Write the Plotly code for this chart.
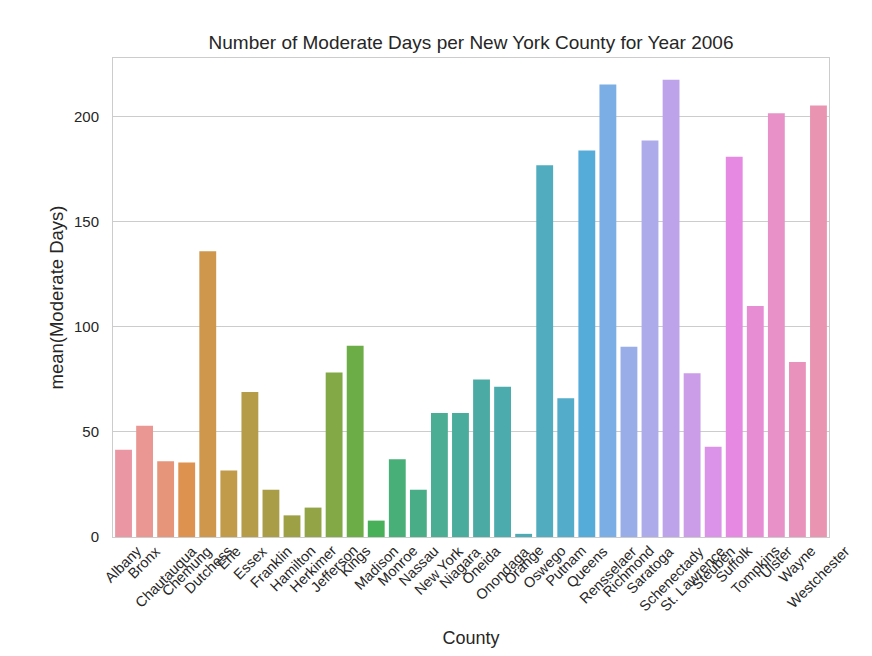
import math
import colorsys
import plotly.graph_objects as go

# ---------------- data ----------------
counties = ["Albany", "Bronx", "Chautauqua", "Chemung", "Dutchess", "Erie", "Essex",
            "Franklin", "Hamilton", "Herkimer", "Jefferson", "Kings", "Madison",
            "Monroe", "Nassau", "New York", "Niagara", "Oneida", "Onondaga", "Orange",
            "Oswego", "Putnam", "Queens", "Rensselaer", "Richmond", "Saratoga",
            "Schenectady", "St. Lawrence", "Steuben", "Suffolk", "Tompkins", "Ulster",
            "Wayne", "Westchester"]
moderate_days = [41.5, 53, 36, 35.5, 136, 31.7, 69, 22.5, 10.3, 14, 78.3, 91, 7.8,
                 37, 22.5, 59, 59, 75, 71.5, 1.5, 177, 66, 184, 215.4, 90.5, 188.7,
                 217.6, 78, 43, 181, 110, 201.7, 83.3, 205.4]
y_ticks = [0, 50, 100, 150, 200]

# ---------------- seaborn-like husl palette ----------------
_M = [[3.240969941904521, -1.537383177570093, -0.498610760293],
      [-0.96924363628087, 1.87596750150772, 0.041555057407175],
      [0.055630079696993, -0.20397695888897, 1.056971514242878]]
_refU, _refV = 0.19783000664283, 0.46831999493879
_kappa, _eps = 903.2962962, 0.0088564516


def _max_chroma(L, H):
    hrad = math.radians(H)
    sinH, cosH = math.sin(hrad), math.cos(hrad)
    sub1 = (L + 16) ** 3 / 1560896.0
    sub2 = sub1 if sub1 > 0.008856 else L / 903.3
    result = float("inf")
    for m1, m2, m3 in _M:
        top = (0.99915 * m1 + 1.05122 * m2 + 1.14460 * m3) * sub2
        rb = 0.86330 * m3 - 0.17266 * m2
        lb = 0.12949 * m3 - 0.38848 * m1
        bottom = (rb * sinH + lb * cosH) * sub2
        for t in (0.0, 1.0):
            C = L * (top - 1.05122 * t) / (bottom + 0.17266 * sinH * t)
            if 0.0 < C < result:
                result = C
    return result


def _f_inv(t):
    return t ** 3 if t ** 3 > _eps else (116.0 * t - 16.0) / _kappa


def _from_linear(c):
    return 12.92 * c if c <= 0.0031308 else 1.055 * c ** (1 / 2.4) - 0.055


def husl_to_rgb(h, s, l):
    C = _max_chroma(l, h) / 100.0 * s
    hr = math.radians(h)
    U, V = math.cos(hr) * C, math.sin(hr) * C
    Y = _f_inv((l + 16.0) / 116.0)
    vU = U / (13.0 * l) + _refU
    vV = V / (13.0 * l) + _refV
    X = -(9.0 * Y * vU) / ((vU - 4.0) * vV - vU * vV)
    Z = (9.0 * Y - 15.0 * vV * Y - vV * X) / (3.0 * vV)
    rgb = [_from_linear(r[0] * X + r[1] * Y + r[2] * Z) for r in _M]
    return [min(max(c, 0.0), 1.0) for c in rgb]


def palette(n, h=0.01, s=0.9, l=0.7, sat=0.75):
    cols = []
    for i in range(n):
        hue = ((i / n) + h) % 1 * 359
        r, g, b = husl_to_rgb(hue, s * 99, l * 99)
        hh, ll, ss = colorsys.rgb_to_hls(r, g, b)
        r, g, b = colorsys.hls_to_rgb(hh, ll, ss * sat)
        cols.append("rgb(%d,%d,%d)" % (round(r * 255), round(g * 255), round(b * 255)))
    return cols


colors = palette(len(counties))

FONT = "Liberation Sans, Arial, sans-serif"
TXT = "#262626"

fig = go.Figure(go.Bar(x=counties, y=moderate_days, marker_color=colors,
                       marker_line_width=0, showlegend=False))

annotations = []
for c in counties:
    annotations.append(dict(x=c, xref="x", y=0, yref="paper", yshift=-3,
                            text=c, showarrow=False, textangle=-45,
                            xanchor="center", yanchor="top",
                            font=dict(family=FONT, size=14.5, color=TXT)))

fig.update_layout(
    width=872, height=656,
    margin=dict(l=113, r=43, t=58, b=119),
    paper_bgcolor="white", plot_bgcolor="white",
    bargap=0.2,
    title=dict(text="Number of Moderate Days per New York County for Year 2006",
               x=(113 + 829) / 2 / 872, xanchor="center", y=1 - 42 / 656, yanchor="middle",
               font=dict(family=FONT, size=19, color=TXT)),
    annotations=annotations,
    xaxis=dict(showticklabels=False, showgrid=False, ticks="",
               showline=True, linecolor="#cccccc", linewidth=1, mirror=True,
               title=dict(text="County", standoff=94, font=dict(family=FONT, size=18, color=TXT)),
               range=[-0.5, len(counties) - 0.5]),
    yaxis=dict(range=[0, 228], tickvals=y_ticks, showgrid=True, gridcolor="#cccccc",
               gridwidth=1, zeroline=False, showline=True, linecolor="#cccccc",
               linewidth=1, mirror=True, ticks="", ticklabelstandoff=10,
               tickfont=dict(family=FONT, size=15, color=TXT),
               title=dict(text="mean(Moderate Days)", standoff=5,
                          font=dict(family=FONT, size=18.5, color=TXT))),
)

fig.write_html("out.html")
